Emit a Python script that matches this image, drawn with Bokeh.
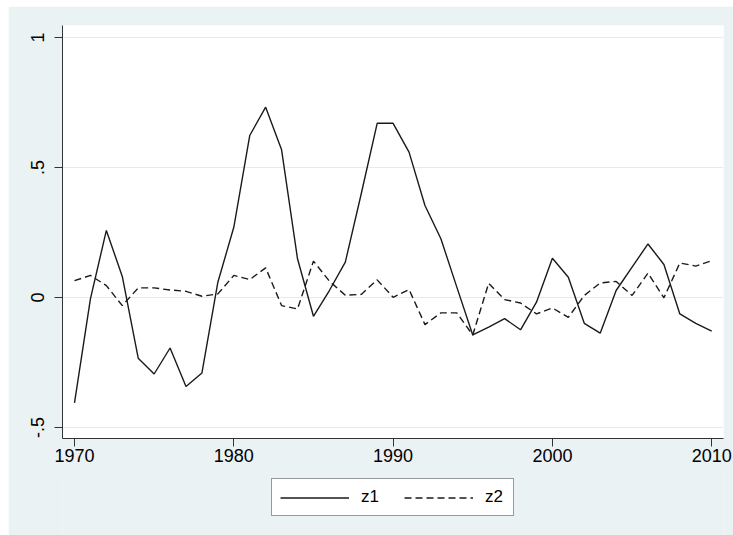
from bokeh.plotting import figure
from bokeh.layouts import column
from bokeh.models import Legend, LegendItem, FixedTicker, Range1d
from bokeh.embed import file_html
from bokeh.resources import INLINE

# Annual series, 1970-2010
years = list(range(1970, 2011))
z1 = [-0.405, -0.005, 0.258, 0.081, -0.233, -0.294, -0.194, -0.342, -0.290, 0.059,
      0.270, 0.623, 0.732, 0.568, 0.149, -0.072, 0.027, 0.136, 0.399, 0.670,
      0.670, 0.559, 0.354, 0.226, 0.040, -0.144, -0.114, -0.081, -0.124, -0.018,
      0.151, 0.078, -0.099, -0.137, 0.027, 0.117, 0.206, 0.127, -0.063, -0.099,
      -0.129]
z2 = [0.065, 0.085, 0.046, -0.031, 0.037, 0.037, 0.029, 0.024, 0.005, 0.014,
      0.085, 0.069, 0.114, -0.031, -0.044, 0.140, 0.063, 0.009, 0.012, 0.068,
      0.001, 0.031, -0.104, -0.059, -0.059, -0.144, 0.055, -0.008, -0.021, -0.063,
      -0.040, -0.076, 0.008, 0.056, 0.062, 0.008, 0.094, -0.001, 0.133, 0.121,
      0.142]

x_ticks = [1970, 1980, 1990, 2000, 2010]
y_ticks = [-0.5, 0, 0.5, 1]
y_tick_labels = ["-.5", "0", ".5", "1"]

FONT = "Liberation Sans"
BG = "#EAF2F3"
INK = "#1a1a1a"

SOLID = dict(line_color=INK, line_width=1.4)
DASHED = dict(line_color=INK, line_width=1.4, line_dash="7 4")

# main chart
p = figure(width=725, height=469, output_backend="svg", toolbar_location=None,
           x_range=Range1d(1969.247, 2010.74), y_range=Range1d(-0.542, 1.046),
           min_border_left=54, min_border_right=10, min_border_top=19,
           min_border_bottom=37, background_fill_color="white",
           border_fill_color=BG, outline_line_color=None, margin=(6, 0, 0, 8))

p.line(years, z1, **SOLID)
p.line(years, z2, **DASHED)

for ax in (p.xaxis[0], p.yaxis[0]):
    ax.axis_line_color = "#333333"
    ax.axis_line_width = 1
    ax.major_tick_line_color = "#333333"
    ax.major_tick_out = 8
    ax.major_tick_in = 0
    ax.minor_tick_line_color = None
    ax.major_label_text_font = FONT
    ax.major_label_text_font_size = "18px"
    ax.major_label_text_color = "black"

p.xaxis.ticker = FixedTicker(ticks=x_ticks)
p.xaxis.major_label_standoff = 2
p.yaxis.ticker = FixedTicker(ticks=y_ticks)
p.yaxis.major_label_overrides = {t: l for t, l in zip(y_ticks, y_tick_labels)}
p.yaxis.major_label_orientation = "vertical"
p.yaxis.major_label_standoff = 10

p.xgrid.grid_line_color = None
p.ygrid.ticker = FixedTicker(ticks=y_ticks)
p.ygrid.grid_line_color = "#E2EBED"
p.ygrid.grid_line_width = 1

# legend strip underneath the chart (its frame lines up with the chart frame)
lg = figure(width=725, height=61, output_backend="svg", toolbar_location=None,
            x_range=Range1d(0, 1), y_range=Range1d(0, 1),
            x_axis_location=None, y_axis_location=None,
            min_border=0, min_border_left=0, min_border_right=0,
            min_border_top=0, min_border_bottom=0,
            background_fill_color=BG, border_fill_color=BG,
            outline_line_color=None, margin=(-1, 0, 0, 8))
lg.grid.visible = False
k1 = lg.line(years, z1, visible=False, **SOLID)
k2 = lg.line(years, z2, visible=False, **DASHED)

legend = Legend(items=[LegendItem(label="z1", renderers=[k1]),
                       LegendItem(label="z2", renderers=[k2])],
                orientation="horizontal", location=(209, 19), margin=0,
                padding=8, spacing=23, label_standoff=12, glyph_width=69,
                glyph_height=19, label_height=19,
                label_text_font=FONT, label_text_font_size="17px",
                label_text_color="black",
                border_line_color="#333333", border_line_width=1,
                background_fill_color="white", background_fill_alpha=1,
                inactive_fill_alpha=0)
lg.add_layout(legend, "center")

open("out.html", "w").write(file_html(column(p, lg, spacing=0), INLINE))
